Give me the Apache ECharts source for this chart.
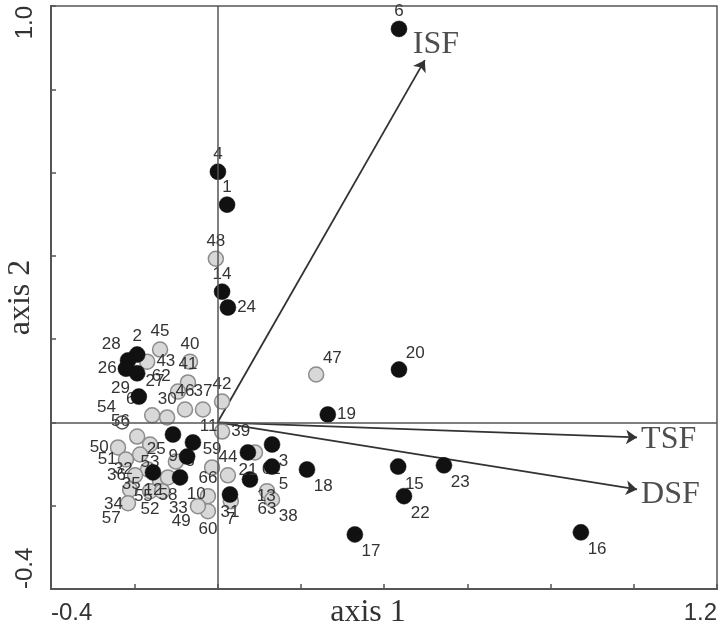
<!DOCTYPE html>
<html>
<head>
<meta charset="utf-8">
<title>ordination biplot</title>
<script src="https://cdn.jsdelivr.net/npm/echarts@6/dist/echarts.min.js"></script>
<style>
  html, body { margin: 0; padding: 0; background: #fff; }
  #chart { width: 724px; height: 633px; }
</style>
</head>
<body>
<div id="chart"></div>
<script>
// sites drawn as filled black dots
var blackIds = ['6', '4', '1', '14', '24', '20', '19', '18', '15', '23', '22', '17', '16', '3', '5', '13', '21', '31',
  '2', '28', '26', '29', '27', '25', '11', '9', '12', '10'];
var blackX = [0.436, 0.001, 0.023, 0.011, 0.025, 0.436, 0.265, 0.215, 0.434, 0.544, 0.448, 0.330, 0.873, 0.131, 0.131, 0.078, 0.073, 0.030,
  -0.193, -0.215, -0.220, -0.193, -0.189, -0.107, -0.059, -0.073, -0.155, -0.090];
var blackY = [0.945, 0.602, 0.523, 0.314, 0.276, 0.127, 0.019, -0.113, -0.106, -0.103, -0.177, -0.269, -0.264, -0.053, -0.106, -0.137, -0.072, -0.173,
  0.163, 0.149, 0.129, 0.118, 0.062, -0.029, -0.048, -0.082, -0.120, -0.132];

// sites drawn as light grey circles
var grayIds = ['48', '47', '45', '43', '40', '41', '62', '46', '37', '42', '64', '30', '56', '50', '53', '32', '51', '35', '36',
  '55', '58', '34', '52', '33', '57', '8', '59', '66', '60', '49', '44', '39', '61', '63', '38', '7'];
var grayX = [-0.004, 0.237, -0.138, -0.169, -0.066, -0.071, -0.095, -0.078, -0.035, 0.011, -0.157, -0.121, -0.193, -0.239, -0.162, -0.186, -0.220, -0.167, -0.198,
  -0.138, -0.119, -0.210, -0.162, -0.133, -0.215, -0.100, -0.013, -0.023, -0.023, -0.047, 0.025, 0.011, 0.090, 0.119, 0.131, 0.032];
var grayY = [0.393, 0.115, 0.175, 0.146, 0.146, 0.096, 0.074, 0.031, 0.031, 0.050, 0.017, 0.012, -0.034, -0.060, -0.053, -0.077, -0.089, -0.113, -0.127,
  -0.141, -0.132, -0.161, -0.165, -0.165, -0.194, -0.094, -0.108, -0.177, -0.213, -0.201, -0.127, -0.022, -0.072, -0.165, -0.185, -0.189];

// site drawn as an open white circle
var openIds = ['54'];
var openX = [-0.229];
var openY = [0.000];

// environmental vectors (arrow tips, from the origin)
var vectorNames = ['ISF', 'TSF', 'DSF'];
var vectorX = [0.498, 1.008, 1.008];
var vectorY = [0.870, -0.036, -0.161];

// only the end ticks carry labels
var xTickLabels = [-0.4, 1.2];
var yTickLabels = [-0.4, 1.0];

// where each site number sits relative to its symbol
var labelSide = {
  '6': 't', '4': 't', '1': 't', '14': 't', '24': 'r', '20': 'tr', '19': 'r', '18': 'br', '15': 'br', '23': 'br',
  '22': 'br', '17': 'br', '16': 'br', '3': 'br', '5': 'br', '13': 'br', '21': 'b', '31': 'b',
  '2': 't', '28': 'tl', '26': 'l', '29': 'bl', '27': 'tr', '25': 'bl', '11': 'tr', '9': 'l', '12': 'b', '10': 'br',
  '48': 't', '47': 'tr', '45': 't', '43': 'r', '40': 't', '41': 't', '62': 'tl', '46': 't', '37': 't', '42': 't',
  '64': 'tl', '30': 't', '56': 'tl', '50': 'l', '53': 'b', '32': 'bl', '51': 'l', '35': 'bl', '36': 'l',
  '55': 'bl', '58': 'b', '34': 'bl', '52': 'b', '33': 'br', '57': 'bl', '8': 'r', '59': 't', '66': 't',
  '60': 'b', '49': 'bl', '44': 't', '39': 'r', '61': 'br', '63': 'b', '38': 'br', '7': 'b', '54': 'tl'
};

var SYM = 16;

function labelFor(id) {
  var s = labelSide[id] || 't';
  var l = { show: true, formatter: id };
  if (s === 't') { l.position = 'top'; l.distance = 1; }
  else if (s === 'b') { l.position = 'bottom'; l.distance = 1; }
  else if (s === 'l') { l.position = 'left'; l.distance = 1; }
  else if (s === 'r') { l.position = 'right'; l.distance = 1; }
  else if (s === 'tr') { l.position = [SYM - 1, 1]; l.align = 'left'; l.verticalAlign = 'bottom'; }
  else if (s === 'tl') { l.position = [1, 1]; l.align = 'right'; l.verticalAlign = 'bottom'; }
  else if (s === 'br') { l.position = [SYM - 1, SYM + 1]; l.align = 'left'; l.verticalAlign = 'top'; }
  else if (s === 'bl') { l.position = [1, SYM - 1]; l.align = 'right'; l.verticalAlign = 'top'; }
  return l;
}

function points(ids, xs, ys) {
  return ids.map(function (id, i) {
    return { name: id, value: [xs[i], ys[i]], label: labelFor(id) };
  });
}

var chart = echarts.init(document.getElementById('chart'));

var siteLabel = {
  fontFamily: 'Liberation Sans, Arial, sans-serif',
  fontSize: 17,
  color: '#333'
};

var option = {
  animation: false,
  backgroundColor: '#fff',
  grid: {
    left: 51,
    right: 7,
    top: 6,
    bottom: 44,
    containLabel: false,
    outerBoundsMode: 'none',
    show: true,
    borderColor: '#555',
    borderWidth: 1.5
  },
  xAxis: {
    type: 'value',
    min: -0.4,
    max: 1.2,
    interval: 0.2,
    name: 'axis 1',
    nameLocation: 'middle',
    nameGap: 8,
    nameMoveOverlap: false,
    nameTextStyle: {
      fontFamily: 'Liberation Serif, Times New Roman, serif',
      fontSize: 32,
      color: '#333',
      verticalAlign: 'top',
      padding: [0, 32, 0, 0]
    },
    axisLine: { onZero: false, lineStyle: { color: '#555', width: 2 } },
    axisTick: { inside: true, length: 5, lineStyle: { color: '#555', width: 1.5 } },
    splitLine: { show: false },
    axisLabel: {
      margin: 12,
      fontFamily: 'Liberation Sans, Arial, sans-serif',
      fontSize: 24,
      color: '#333',
      alignMinLabel: 'left',
      alignMaxLabel: 'right',
      formatter: function (v) {
        var hit = xTickLabels.some(function (t) { return Math.abs(t - v) < 1e-6; });
        return hit ? v.toFixed(1) : '';
      }
    }
  },
  yAxis: {
    type: 'value',
    min: -0.4,
    max: 1.0,
    interval: 0.2,
    name: 'axis 2',
    nameLocation: 'middle',
    nameGap: 14,
    nameMoveOverlap: false,
    nameTextStyle: {
      fontFamily: 'Liberation Serif, Times New Roman, serif',
      fontSize: 32,
      color: '#333'
    },
    axisLine: { onZero: false, lineStyle: { color: '#555', width: 2 } },
    axisTick: { inside: true, length: 5, lineStyle: { color: '#555', width: 1.5 } },
    splitLine: { show: false },
    axisLabel: {
      rotate: 90,
      margin: 14,
      fontFamily: 'Liberation Sans, Arial, sans-serif',
      fontSize: 24,
      color: '#333',
      alignMinLabel: 'left',
      alignMaxLabel: 'right',
      formatter: function (v) {
        var hit = yTickLabels.some(function (t) { return Math.abs(t - v) < 1e-6; });
        return hit ? v.toFixed(1) : '';
      }
    }
  },
  series: [
    {
      // zero lines
      type: 'scatter',
      data: [],
      silent: true,
      z: 1,
      markLine: {
        silent: true,
        symbol: 'none',
        label: { show: false },
        lineStyle: { color: '#555', width: 1.5, type: 'solid' },
        data: [{ xAxis: 0 }, { yAxis: 0 }]
      }
    },
    {
      // environmental arrows
      type: 'lines',
      coordinateSystem: 'cartesian2d',
      z: 2,
      symbol: ['none', 'arrow'],
      symbolSize: 11,
      lineStyle: { color: '#333', width: 1.8, opacity: 1, curveness: 0 },
      data: vectorNames.map(function (n, i) {
        return { name: n, coords: [[0, 0], [vectorX[i], vectorY[i]]] };
      })
    },
    {
      // arrow names
      type: 'scatter',
      symbolSize: 0,
      silent: true,
      z: 2,
      data: vectorNames.map(function (n, i) {
        var lab = {
          show: true,
          formatter: n,
          fontFamily: 'Liberation Serif, Times New Roman, serif',
          fontSize: 32,
          color: '#222'
        };
        if (n === 'ISF') { lab.position = [-12, 0]; lab.align = 'left'; lab.verticalAlign = 'bottom'; }
        else if (n === 'TSF') { lab.position = [4, 2]; lab.align = 'left'; lab.verticalAlign = 'middle'; }
        else { lab.position = [4, 5]; lab.align = 'left'; lab.verticalAlign = 'middle'; }
        return { name: n, value: [vectorX[i], vectorY[i]], label: lab };
      })
    },
    {
      name: 'grey',
      type: 'scatter',
      z: 3,
      symbolSize: SYM - 1,
      itemStyle: { color: '#d8d8d8', borderColor: '#8c8c8c', borderWidth: 1.5, opacity: 1 },
      label: siteLabel,
      data: points(grayIds, grayX, grayY)
    },
    {
      name: 'open',
      type: 'scatter',
      z: 3,
      symbolSize: SYM - 3,
      itemStyle: { color: '#fff', borderColor: '#555', borderWidth: 1.5, opacity: 1 },
      label: siteLabel,
      data: points(openIds, openX, openY)
    },
    {
      name: 'black',
      type: 'scatter',
      z: 4,
      symbolSize: SYM,
      itemStyle: { color: '#111', borderColor: '#111', borderWidth: 0.5, opacity: 1 },
      label: siteLabel,
      data: points(blackIds, blackX, blackY)
    }
  ]
};

chart.setOption(option);
</script>
</body>
</html>
